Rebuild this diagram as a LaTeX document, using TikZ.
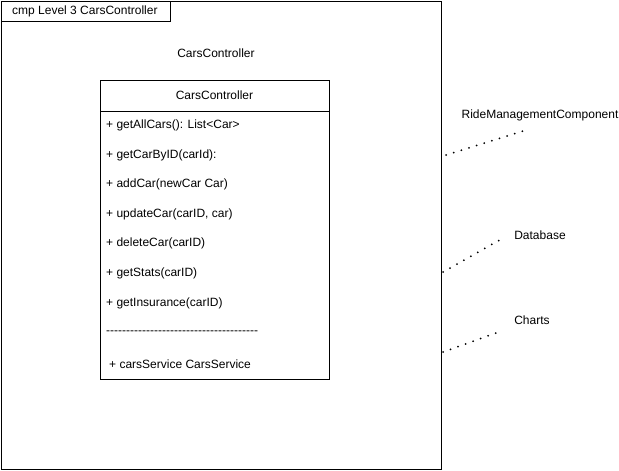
\documentclass[tikz,border=0pt]{standalone}
\usepackage{fontspec}
\setmainfont{Liberation Sans}
\begin{document}
\begin{tikzpicture}[x=1pt,y=-1pt,
  frame/.style={draw=black,line width=1pt},
  lbl/.style={inner sep=0pt,font=\fontsize{12}{14}\selectfont},
  member/.style={lbl,anchor=west},
  dots/.style={draw=black,line width=2pt,line cap=round,dash pattern=on 0pt off 8pt}]
\useasboundingbox (0,0) rectangle (619,471);
\fill[white] (0,0) rectangle (619,471);
% outer frame
\draw[frame] (1,1) rectangle (441,469);
\draw[frame] (1,1) rectangle (170,21);
\node[lbl,anchor=west] (tab) at (12,11) {cmp Level 3 CarsController};
\node[lbl] (title) at (216,53) {CarsController};
% class box
\draw[frame] (100,80) rectangle (329,379);
\draw[frame] (100,111) -- (329,111);
\node[lbl] (hdr) at (214.5,95.5) {CarsController};
\node[member] (m1) at (106,125) {+ getAllCars(): List<Car>};
\node[member] (m2) at (106,155) {+ getCarByID(carId):};
\node[member] (m3) at (106,184) {+ addCar(newCar Car)};
\node[member] (m4) at (106,214) {+ updateCar(carID, car)};
\node[member] (m5) at (106,243) {+ deleteCar(carID)};
\node[member] (m6) at (106,273) {+ getStats(carID)};
\node[member] (m7) at (106,303) {+ getInsurance(carID)};
\node[member] (m8) at (106,333) {-{}-{}-{}-{}-{}-{}-{}-{}-{}-{}-{}-{}-{}-{}-{}-{}-{}-{}-{}-{}-{}-{}-{}-{}-{}-{}-{}-{}-{}-{}-{}-{}-{}-{}-{}-{}-{}-};
\node[member] (m9) at (109,364) {+ carsService CarsService};
% external components
\node[lbl] (rmc) at (540,115) {RideManagementComponent};
\node[lbl] (db) at (540,235) {Database};
\node[lbl] (ch) at (532,320) {Charts};
\coordinate (r1) at (446,155);
\coordinate (r2) at (523,131);
\coordinate (d1) at (443,272);
\coordinate (d2) at (505,237);
\coordinate (c1) at (443,352);
\coordinate (c2) at (496,333);
\draw[dots] (r1) -- (r2);
\draw[dots] (d1) -- (d2);
\draw[dots] (c1) -- (c2);
\end{tikzpicture}
\end{document}
